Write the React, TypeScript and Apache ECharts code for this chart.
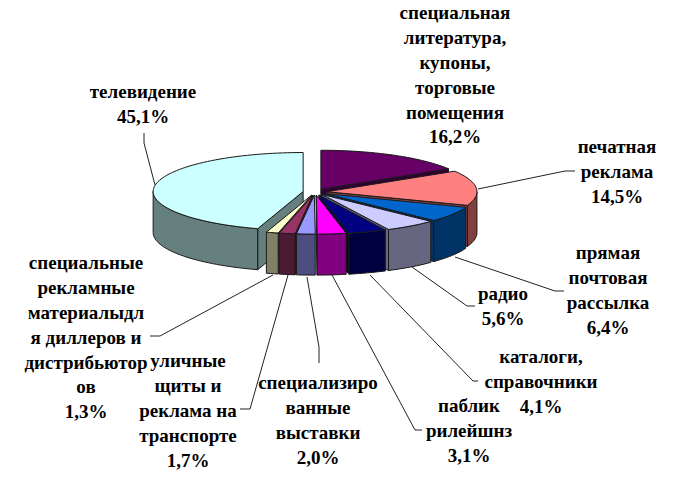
import React, { useEffect, useRef } from "react";
import * as echarts from "echarts";

const categories = [
  "специальная\nлитература,\nкупоны,\nторговые\nпомещения",
  "печатная\nреклама",
  "прямая\nпочтовая\nрассылка",
  "радио",
  "каталоги,\nсправочники",
  "паблик\nрилейшнз",
  "специализиро\nванные\nвыставки",
  "уличные\nщиты и\nреклама на\nтранспорте",
  "специальные\nрекламные\nматериалыдл\nя диллеров и\nдистрибьютор\nов",
  "телевидение",
];
const values = [16.2, 14.5, 6.4, 5.6, 4.1, 3.1, 2.0, 1.7, 1.3, 45.1];
const valueLabels = ["16,2%", "14,5%", "6,4%", "5,6%", "4,1%", "3,1%", "2,0%", "1,7%", "1,3%", "45,1%"];
const topColors = ["#660066", "#FF8080", "#0066CC", "#CCCCFF", "#000080", "#FF00FF", "#9999FF", "#993366", "#FFFFCC", "#CCFFFF"];
const sideColors = ["#330033", "#804040", "#003366", "#666680", "#000040", "#800080", "#4D4D80", "#4D1A33", "#808066", "#668080"];

// Label anchors: [centre x, centre y of the first line]
const labelAnchors: [number, number][] = [
  [455, 13], [617, 147], [608, 253], [503, 294], [541, 357],
  [469, 406], [318, 383], [188, 361], [86, 263], [143, 92],
];
const leaderLines: [number, number][][] = [
  [],
  [[575, 171], [565, 171], [478, 189]],
  [[564, 291], [555, 291], [455, 257]],
  [[475, 306], [467, 306], [412, 267]],
  [[478, 381], [473, 381], [370, 275]],
  [[422, 430], [415, 430], [332, 275]],
  [[319, 363], [319, 347], [307, 277]],
  [[240, 409], [250, 409], [288, 275]],
  [[150, 336], [160, 336], [273, 275]],
  [[144, 133], [144, 143], [155, 185]],
];

const CX = 315, CY = 192, RX = 150, RY = 39, DEPTH = 41, EXPLODE = 12;
const LINE_H = 24.8;
const rad = (d: number) => (d * Math.PI) / 180;
const total = values.reduce((a, b) => a + b, 0);
const ends: number[] = [];
values.reduce((acc, v, i) => ((ends[i] = acc + (v / total) * 360), ends[i]), 0);

function renderItem(_p: any, api: any) {
  const i = api.value(0);
  const a = i === 0 ? 0 : ends[i - 1];
  const b = ends[i];
  const mid = (a + b) / 2;
  const ox = CX + EXPLODE * Math.sin(rad(mid));
  const oy = CY - (EXPLODE * RY / RX) * Math.cos(rad(mid));
  const pt = (t: number, dz = 0): number[] => [ox + RX * Math.sin(rad(t)), oy - RY * Math.cos(rad(t)) + dz];
  const arc = (s: number, e: number, dz = 0) => {
    const out: number[][] = [];
    const n = Math.max(2, Math.ceil(Math.abs(e - s) / 2));
    for (let k = 0; k <= n; k++) out.push(pt(s + ((e - s) * k) / n, dz));
    return out;
  };
  const stroke = { stroke: "#1a1a1a", lineWidth: 1, lineJoin: "round" };
  const poly = (points: number[][], fill: string) => ({
    type: "polygon",
    shape: { points },
    style: { fill, ...stroke },
    silent: true,
  });
  const children: any[] = [];
  const side = sideColors[i];
  // radial cut faces facing the viewer
  if (Math.sin(rad(a)) < 0) {
    children.push(poly([[ox, oy], pt(a), pt(a, DEPTH), [ox, oy + DEPTH]], side));
  }
  if (Math.sin(rad(b)) > 0) {
    children.push(poly([[ox, oy], pt(b), pt(b, DEPTH), [ox, oy + DEPTH]], side));
  }
  // outer wall, front half only
  const ws = Math.max(a, 90);
  const we = Math.min(b, 270);
  if (we > ws) {
    children.push(poly([...arc(ws, we), ...arc(we, ws, DEPTH)], side));
  }
  // top face
  children.push(poly([[ox, oy], ...arc(a, b)], topColors[i]));
  return { type: "group", children };
}

// Painter's order: furthest slices first
const drawOrder = values
  .map((_, i) => i)
  .map((i) => {
    const a = i === 0 ? 0 : ends[i - 1];
    return { i, depth: -Math.cos(rad((a + ends[i]) / 2)) };
  })
  .sort((p, q) => p.depth - q.depth)
  .map((p) => p.i);

export default function App() {
  const ref = useRef<HTMLDivElement>(null);
  useEffect(() => {
    const chart = echarts.init(ref.current!, undefined, { renderer: "svg" });
    const graphics: any[] = [];
    leaderLines.forEach((pts) => {
      if (pts.length) {
        graphics.push({
          type: "polyline",
          silent: true,
          shape: { points: pts },
          style: { stroke: "#222", lineWidth: 1, fill: "none" },
        });
      }
    });
    categories.forEach((c, i) => {
      graphics.push({
        type: "text",
        x: labelAnchors[i][0],
        y: labelAnchors[i][1] - LINE_H / 2,
        silent: true,
        style: {
          text: c + "\n" + valueLabels[i],
          fontFamily: "Liberation Serif",
          fontWeight: "bold",
          fontSize: 19,
          lineHeight: LINE_H,
          fill: "#000",
          align: "center",
          verticalAlign: "top",
        },
      });
    });
    chart.setOption({
      animation: false,
      backgroundColor: "#fff",
      series: [
        {
          type: "custom",
          coordinateSystem: "none",
          renderItem,
          data: drawOrder.map((i) => [i, values[i]]),
          silent: true,
          clip: false,
        },
      ],
      graphic: { elements: graphics },
    });
    return () => chart.dispose();
  }, []);
  return <div ref={ref} style={{ position: "absolute", left: 0, top: 0, width: 680, height: 502 }} />;
}
